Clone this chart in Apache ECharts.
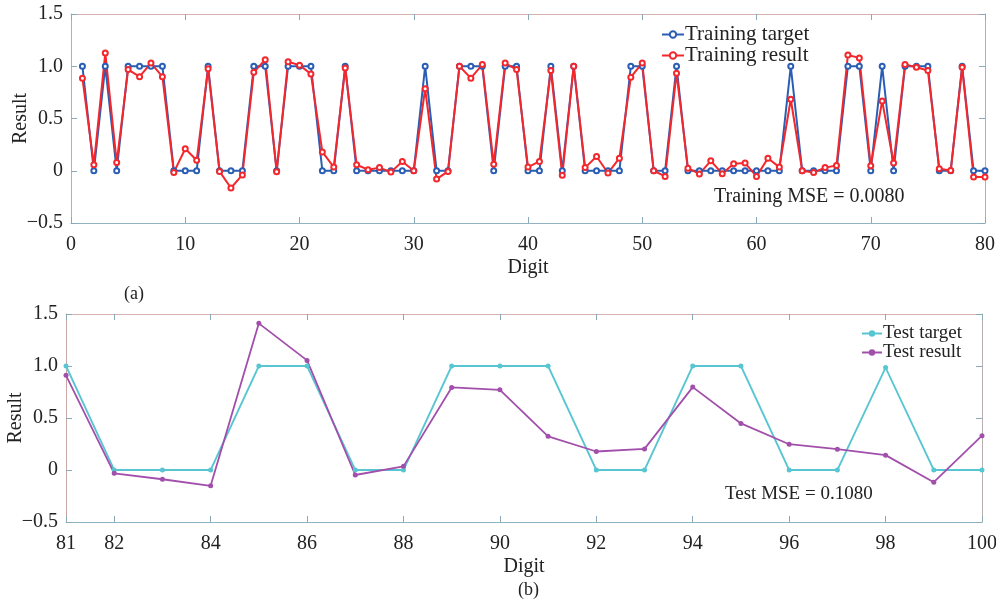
<!DOCTYPE html>
<html>
<head>
<meta charset="utf-8">
<script src="https://cdn.jsdelivr.net/npm/echarts@6/dist/echarts.min.js"></script>
<style>
    html, body { margin: 0; padding: 0; background: #fff; }
    #chart { width: 996px; height: 606px; }
</style>
</head>
<body>
<div id="chart"></div>
<script>
    // training digits 1..80
    const trainTarget = [
        1,0,1,0,1,1,1,1,0,0, 0,1,0,0,0,1,1,0,1,1,
        1,0,0,1,0,0,0,0,0,0, 1,0,0,1,1,1,0,1,1,0,
        0,1,0,1,0,0,0,0,1,1, 0,0,1,0,0,0,0,0,0,0,
        0,0,1,0,0,0,0,1,1,0, 1,0,1,1,1,0,0,1,0,0
    ];
    const trainResult = [
        0.886,0.057,1.127,0.079,0.968,0.90,1.03,0.90,-0.016,0.21,
        0.10,0.975,-0.006,-0.165,-0.04,0.943,1.063,-0.01,1.044,1.01,
        0.927,0.18,0.035,0.984,0.057,0.01,0.03,-0.013,0.089,0.0,
        0.785,-0.08,-0.006,1.0,0.886,1.016,0.063,1.03,0.968,0.035,
        0.089,0.96,-0.044,1.0,0.03,0.136,-0.022,0.12,0.895,1.03,
        0.0,-0.054,0.934,0.025,-0.03,0.095,-0.028,0.066,0.073,-0.054,
        0.12,0.035,0.684,0.0,-0.016,0.03,0.05,1.108,1.08,0.047,
        0.668,0.073,1.016,0.99,0.96,0.02,0.003,0.99,-0.06,-0.06
    ];
    // test digits 81..100
    const testTarget = [1,0,0,0,1,1,0,0,1,1, 1,0,0,1,1,0,0,0.985,0,0];
    const testResult = [
        0.91,-0.032,-0.089,-0.152,1.41,1.054,-0.048,0.035,0.794,0.771,
        0.324,0.178,0.203,0.797,0.448,0.248,0.2,0.143,-0.117,0.33
    ];
    const testTicks = [81, 82, 84, 86, 88, 90, 92, 94, 96, 98, 100];

    const font = 'Liberation Serif';
    const toPairs = (arr, start) => arr.map((v, i) => [start + i, v]);

    function yLabel(v) {
        if (v === 0) return '0';
        const s = v.toFixed(1);
        return v < 0 ? '\u2212' + s.slice(1) : s;
    }

    const tickStyle = { inside: true, length: 6, lineStyle: { color: '#8aaab8' } };
    const lblStyle = { fontFamily: font, fontSize: 20, color: '#222' };
    const nameStyle = { fontFamily: font, fontSize: 20, color: '#222' };

    function xAxes(gi, min, max, interval, custom) {
        const base = {
            type: 'value', gridIndex: gi, min: min, max: max,
            splitLine: { show: false }
        };
        if (interval) base.interval = interval;
        const bottom = Object.assign({}, base, {
            position: 'bottom',
            name: 'Digit', nameLocation: 'middle', nameGap: 35, nameMoveOverlap: false,
            nameTextStyle: nameStyle,
            axisLine: { onZero: false, lineStyle: { color: '#8fb3c2' } },
            axisTick: Object.assign({}, tickStyle, custom ? { customValues: custom } : {}),
            axisLabel: Object.assign({ margin: 12 }, lblStyle, custom ? { customValues: custom } : {})
        });
        const top = Object.assign({}, base, {
            position: 'top',
            axisLine: { onZero: false, lineStyle: { color: '#d4b0ae' } },
            axisTick: Object.assign({}, tickStyle, custom ? { customValues: custom } : {}),
            axisLabel: { show: false }
        });
        return [bottom, top];
    }

    function yAxes(gi) {
        const base = {
            type: 'value', gridIndex: gi, min: -0.5, max: 1.5, interval: 0.5,
            splitLine: { show: false }
        };
        const left = Object.assign({}, base, {
            position: 'left',
            name: 'Result', nameLocation: 'middle', nameGap: 40, nameMoveOverlap: false,
            nameTextStyle: nameStyle,
            axisLine: { show: true, onZero: false, lineStyle: { color: '#c9a8a6' } },
            axisTick: Object.assign({ show: true }, tickStyle),
            axisLabel: Object.assign({ margin: 8, formatter: yLabel }, lblStyle)
        });
        const right = Object.assign({}, base, {
            position: 'right',
            axisLine: { show: true, onZero: false, lineStyle: { color: '#b9aeb0' } },
            axisTick: Object.assign({ show: true }, tickStyle),
            axisLabel: { show: false }
        });
        return [left, right];
    }

    const chart = echarts.init(document.getElementById('chart'));

    const option = {
        animation: false,
        backgroundColor: '#fff',
        textStyle: { fontFamily: font },
        grid: [
            { left: 71, right: 11, top: 14, height: 209, containLabel: false, outerBoundsMode: 'none' },
            { left: 66, right: 14, top: 314, height: 208, containLabel: false, outerBoundsMode: 'none' }
        ],
        xAxis: [].concat(
            xAxes(0, 0, 80, 10, null),
            xAxes(1, 81, 100, null, testTicks)
        ),
        yAxis: [].concat(yAxes(0), yAxes(1)),
        legend: [
            {
                data: ['Training target', 'Training result'],
                orient: 'vertical', left: 656, top: 19,
                itemWidth: 22, itemHeight: 8, itemGap: 0,
                textStyle: { fontFamily: font, fontSize: 21, color: '#222', padding: [0, 0, 0, -4] }
            },
            {
                data: ['Test target', 'Test result'],
                orient: 'vertical', left: 856, top: 319,
                itemWidth: 20, itemHeight: 8, itemGap: 0,
                textStyle: { fontFamily: font, fontSize: 19, color: '#222', padding: [0, 0, 0, -4] }
            }
        ],
        graphic: [
            { type: 'text', left: 714, top: 187, style: { text: 'Training MSE = 0.0080', font: '20px ' + font, fill: '#222' } },
            { type: 'text', left: 725, top: 485, style: { text: 'Test MSE = 0.1080', font: '19px ' + font, fill: '#222' } },
            { type: 'text', left: 124, top: 285, style: { text: '(a)', font: '18px ' + font, fill: '#222' } },
            { type: 'text', left: 518, top: 581, style: { text: '(b)', font: '18px ' + font, fill: '#222' } }
        ],
        series: [
            {
                name: 'Training target', type: 'line', xAxisIndex: 0, yAxisIndex: 0,
                data: toPairs(trainTarget, 1),
                symbol: 'emptyCircle', symbolSize: 5,
                itemStyle: { color: '#2a5db4', borderWidth: 1.5 },
                lineStyle: { color: '#2a5db4', width: 2 }
            },
            {
                name: 'Training result', type: 'line', xAxisIndex: 0, yAxisIndex: 0,
                data: toPairs(trainResult, 1),
                symbol: 'emptyCircle', symbolSize: 5,
                itemStyle: { color: '#f3272c', borderWidth: 1.5 },
                lineStyle: { color: '#f3272c', width: 2 }
            },
            {
                name: 'Test target', type: 'line', xAxisIndex: 2, yAxisIndex: 2,
                data: toPairs(testTarget, 81),
                symbol: 'circle', symbolSize: 5,
                itemStyle: { color: '#58c6d2' },
                lineStyle: { color: '#58c6d2', width: 1.8 }
            },
            {
                name: 'Test result', type: 'line', xAxisIndex: 2, yAxisIndex: 2,
                data: toPairs(testResult, 81),
                symbol: 'circle', symbolSize: 5,
                itemStyle: { color: '#a24fab' },
                lineStyle: { color: '#a24fab', width: 1.8 }
            }
        ]
    };

    chart.setOption(option);
</script>
</body>
</html>
